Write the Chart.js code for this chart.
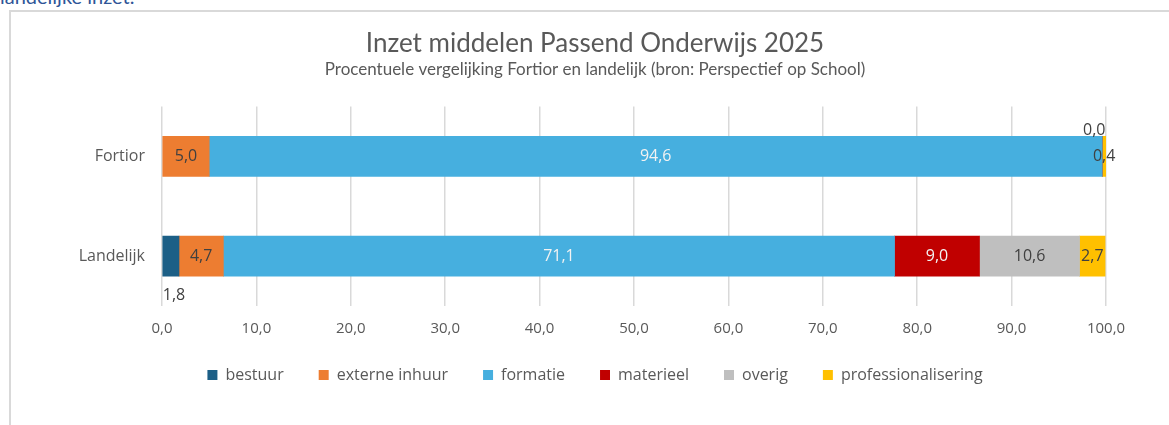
<!DOCTYPE html>
<html lang="nl">
<head>
<meta charset="utf-8">
<title>Inzet middelen Passend Onderwijs 2025</title>
<script src="https://cdn.jsdelivr.net/npm/chart.js"></script>
<style>
  html, body { margin: 0; padding: 0; background: #fff; overflow: hidden; }
  body { width: 1169px; height: 425px; position: relative; }
  #kop {
    position: absolute; left: 0; top: -16px;
    font: 20px Lato, sans-serif; color: #2f5597; white-space: nowrap;
  }
  #kader {
    position: absolute; left: 9px; top: 10px; width: 1160px; height: 420px;
    border-top: 2px solid #d9d9d9; border-left: 2px solid #d9d9d9;
  }
  /* breder dan de pagina, zodat de titel op dezelfde plek centreert als in Excel */
  #wrap { position: absolute; left: 11px; top: 12px; width: 1168px; height: 413px; }
</style>
</head>
<body>
<div id="kop">landelijke inzet.</div>
<div id="kader"></div>
<div id="wrap"><canvas id="grafiek"></canvas></div>
<script>
// data (procenten)
var categories = ["Fortior", "Landelijk"];
var bestuur = [null, 1.8];
var externeInhuur = [5.0, 4.7];
var formatie = [94.6, 71.1];
var materieel = [0.0, 9.0];
var overig = [null, 10.6];
var professionalisering = [0.4, 2.7];
var xTicks = [0, 10, 20, 30, 40, 50, 60, 70, 80, 90, 100];

var grijs = "#595959";
var donker = "#404040";

// waar een label afwijkt van het midden van de balk
var labelPlek = {
  "Landelijk|bestuur": "onder",
  "Fortior|materieel": "boven",
};

function nl(v) {
  return v.toFixed(1).replace(".", ",");
}

var valueLabels = {
  id: "valueLabels",
  afterDatasetsDraw(chart) {
    var ctx = chart.ctx;
    ctx.save();
    ctx.font = '16px "Open Sans"';
    ctx.textBaseline = "middle";
    chart.data.datasets.forEach(function (ds, di) {
      var meta = chart.getDatasetMeta(di);
      meta.data.forEach(function (bar, i) {
        var v = ds.data[i];
        if (v === null || v === undefined) return;
        var plek = labelPlek[categories[i] + "|" + ds.label] || "midden";
        var x = (bar.x + bar.base) / 2;
        var y = bar.y;
        ctx.textAlign = "center";
        ctx.fillStyle = ds.labelColor;
        if (plek == "onder") {
          ctx.textAlign = "left";
          ctx.fillStyle = donker;
          x = bar.base;
          y = bar.y + bar.height / 2 + 19;
        } else if (plek == "boven") {
          ctx.fillStyle = donker;
          x = bar.x - 8;
          y = bar.y - bar.height / 2 - 6;
        }
        ctx.fillText(nl(v), x, y);
      });
    });
    ctx.restore();
  },
};

// legenda iets omhoog schuiven (padding bepaalt ook de afstand tussen de items)
var legendaOmhoog = {
  id: "legendaOmhoog",
  afterLayout(chart) {
    chart.legend.top -= 6;
    chart.legend.bottom -= 6;
  },
};

function serie(label, data, kleur, labelKleur) {
  return {
    label: label,
    data: data,
    backgroundColor: kleur,
    borderWidth: 0,
    barThickness: 40,
    labelColor: labelKleur,
  };
}

var ctx = document.getElementById("grafiek").getContext("2d");
var myChart = new Chart(ctx, {
  type: "bar",
  data: {
    labels: categories,
    datasets: [
      serie("bestuur", bestuur, "#1c5f86", donker),
      serie("externe inhuur", externeInhuur, "#ed7d31", donker),
      serie("formatie", formatie, "#46afdf", "#f2f2f2"),
      serie("materieel", materieel, "#c00000", "#f2f2f2"),
      serie("overig", overig, "#bfbfbf", donker),
      serie("professionalisering", professionalisering, "#ffc000", donker),
    ],
  },
  plugins: [valueLabels, legendaOmhoog],
  options: {
    indexAxis: "y",
    responsive: true,
    maintainAspectRatio: false,
    animation: false,
    events: [],
    layout: { padding: { top: 0, left: 0, right: 0, bottom: 26 } },
    scales: {
      x: {
        stacked: true,
        min: 0,
        max: 100,
        afterBuildTicks: function (scale) {
          scale.ticks = xTicks.map(function (t) { return { value: t }; });
        },
        afterFit: function (scale) { scale.height = 32; },
        grid: { color: "#d9d9d9", lineWidth: 1.5, drawTicks: false },
        border: { display: false },
        ticks: {
          padding: 14,
          color: grijs,
          font: { family: "Open Sans", size: 15 },
          callback: function (v) { return nl(v); },
        },
      },
      y: {
        stacked: true,
        afterFit: function (scale) { scale.width = 151; },
        grid: { display: false, drawTicks: false },
        border: { display: false },
        ticks: {
          padding: 17,
          color: grijs,
          font: { family: "Open Sans", size: 16 },
        },
      },
      // lege as rechts: ruimte naast het plotvlak zonder de titel te verschuiven
      rechts: {
        type: "linear",
        position: "right",
        grid: { display: false, drawTicks: false },
        border: { display: false },
        ticks: { display: false },
        afterFit: function (scale) { scale.width = 73; },
      },
    },
    plugins: {
      tooltip: { enabled: false },
      title: {
        display: true,
        text: "Inzet middelen Passend Onderwijs 2025",
        color: grijs,
        font: { family: "Lato", size: 26, weight: "normal" },
        padding: { top: 16, bottom: 0 },
      },
      subtitle: {
        display: true,
        text: "Procentuele vergelijking Fortior en landelijk (bron: Perspectief op School)",
        color: grijs,
        font: { family: "Lato", size: 17 },
        padding: { top: 0, bottom: 27 },
      },
      legend: {
        position: "bottom",
        labels: {
          boxWidth: 10,
          boxHeight: 10,
          padding: 35,
          color: grijs,
          font: { family: "Open Sans", size: 16 },
        },
      },
    },
  },
});
</script>
</body>
</html>
